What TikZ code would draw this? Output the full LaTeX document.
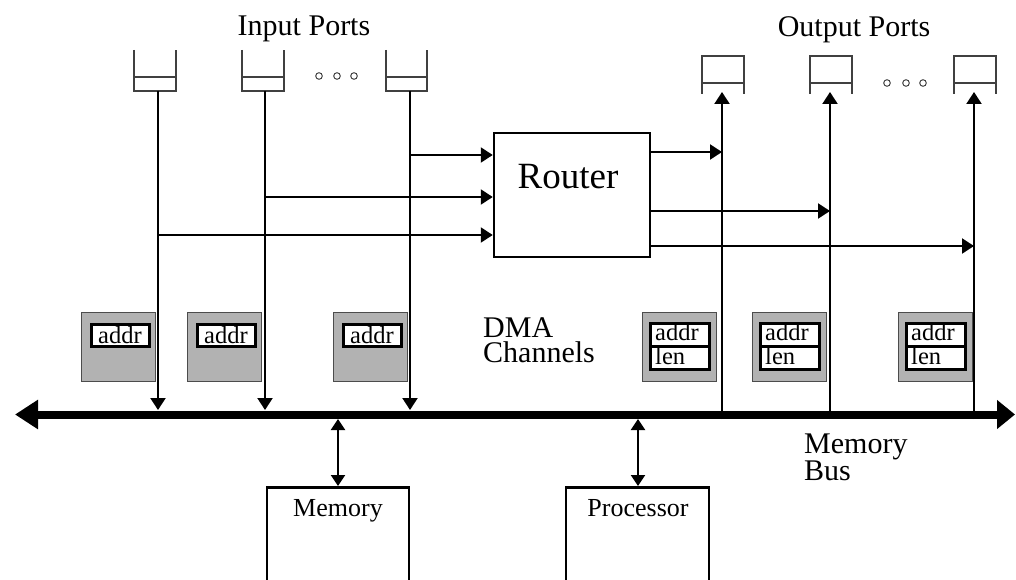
\documentclass[tikz,border=0pt]{standalone}
\usepackage{fontspec}
\setmainfont{Liberation Serif}
\usetikzlibrary{arrows.meta}
\begin{document}
\begin{tikzpicture}[x=1pt,y=-1pt,
  ln/.style={line width=2.2pt},
  arr/.style={line width=2.2pt,-{Triangle[length=12pt,width=15pt]}},
  darr/.style={line width=2.2pt,{Triangle[length=11pt,width=14pt]}-{Triangle[length=11pt,width=14pt]}},
  bus/.style={line width=8pt,{Triangle[length=23pt,width=28pt]}-{Triangle[length=18pt,width=28pt]}},
  qline/.style={line width=1.5pt,draw=black!75},
  dots/.style={line width=0.9pt,draw=black!80},
  dmabox/.style={fill=black!30,draw=black!70,line width=1pt},
  reg/.style={draw,line width=3pt,fill=white},
  box/.style={draw,line width=2.5pt},
  big/.style={font=\fontsize{30}{25}\selectfont},
  mid/.style={font=\fontsize{26}{26}\selectfont},
  small/.style={font=\fontsize{24.5}{23}\selectfont},
  ]
\useasboundingbox (0,0) rectangle (1016,580);

% labels
\node[big,anchor=base] (inlab) at (304,36) {Input Ports};
\node[big,anchor=base] (outlab) at (854,37) {Output Ports};
\node[big,anchor=north west,align=left,inner sep=0pt] (dmalab) at (483,317) {DMA\\Channels};
\node[big,anchor=north west,align=left,inner sep=0pt] (buslab) at (804,434) {Memory\\Bus};

% bus
\coordinate (busL) at (15,414.5);
\coordinate (busR) at (1015,414.5);
\draw[bus] (busL) -- (busR);
\coordinate (bustop) at (0,410);
\coordinate (busbot) at (0,419);

% input queues
\foreach \l/\r in {134/176,242/284,386/427}{
  \draw[qline] (\l,50) -- (\l,91) -- (\r,91) -- (\r,50);
  \draw[qline] (\l,77) -- (\r,77);
}
\coordinate (in1) at (158,91);
\coordinate (in2) at (265,91);
\coordinate (in3) at (410,91);
\foreach \x in {319,337,354} \draw[dots] (\x,76) circle (3.3);

% output queues
\foreach \l/\r in {702/744,810/852,954/996}{
  \draw[qline] (\l,94) -- (\l,56) -- (\r,56) -- (\r,94);
  \draw[qline] (\l,83) -- (\r,83);
}
\coordinate (out1) at (722,92);
\coordinate (out2) at (830,92);
\coordinate (out3) at (974,92);
\foreach \x in {887,906,923} \draw[dots] (\x,83) circle (3.3);

% router
\node[box,minimum width=156pt,minimum height=124pt,inner sep=0pt] (router) at (572,195) {};
\node[font=\fontsize{37}{37}\selectfont,anchor=base] (routertxt) at (568,188) {Router};

% input stems
\draw[arr] (in1) -- (in1 |- bustop);
\draw[arr] (in2) -- (in2 |- bustop);
\draw[arr] (in3) -- (in3 |- bustop);
\coordinate (j3) at (410,155);
\coordinate (j2) at (265,197);
\coordinate (j1) at (158,235);
\draw[arr] (j3) -- (j3 -| router.west);
\draw[arr] (j2) -- (j2 -| router.west);
\draw[arr] (j1) -- (j1 -| router.west);

% output stems
\draw[arr] (out1 |- busbot) -- (out1);
\draw[arr] (out2 |- busbot) -- (out2);
\draw[arr] (out3 |- busbot) -- (out3);
\coordinate (k1) at (722,152);
\coordinate (k2) at (830,211);
\coordinate (k3) at (974,246);
\draw[arr] (k1 -| router.east) -- (k1);
\draw[arr] (k2 -| router.east) -- (k2);
\draw[arr] (k3 -| router.east) -- (k3);

% DMA channels (left: addr only)
\foreach \l/\n in {81/a,187/b,333/c}{
  \draw[dmabox] (\l,312) rectangle ++(74,69);
  \node[reg,small,anchor=north west,minimum width=58pt,minimum height=22pt,inner sep=0pt] (dma\n) at (\l+8.5,322.5) {addr};
}
% DMA channels (right: addr + len)
\foreach \l/\n in {642/d,752/e,898/f}{
  \draw[dmabox] (\l,312) rectangle ++(74,69);
  \draw[reg] (\l+8.5,323.5) rectangle ++(59,45.5);
  \draw[line width=3pt] (\l+8.5,346) -- ++(59,0);
  \node[small,anchor=base west,inner sep=0pt] (dmaaddr\n) at (\l+13,340) {addr};
  \node[small,anchor=base west,inner sep=0pt] (dmalen\n) at (\l+13,364) {len};
}

% memory and processor
\draw[box] (267,585) -- (267,487.5) -- (409,487.5) -- (409,585);
\node[mid,anchor=base] (memtxt) at (338,516) {Memory};
\coordinate (mem) at (338,486);
\draw[box] (566,585) -- (566,487.5) -- (709,487.5) -- (709,585);
\node[mid,anchor=base] (proctxt) at (638,516) {Processor};
\coordinate (proc) at (638,486);
\draw[darr] (mem |- busbot) -- (mem);
\draw[darr] (proc |- busbot) -- (proc);
\end{tikzpicture}
\end{document}
